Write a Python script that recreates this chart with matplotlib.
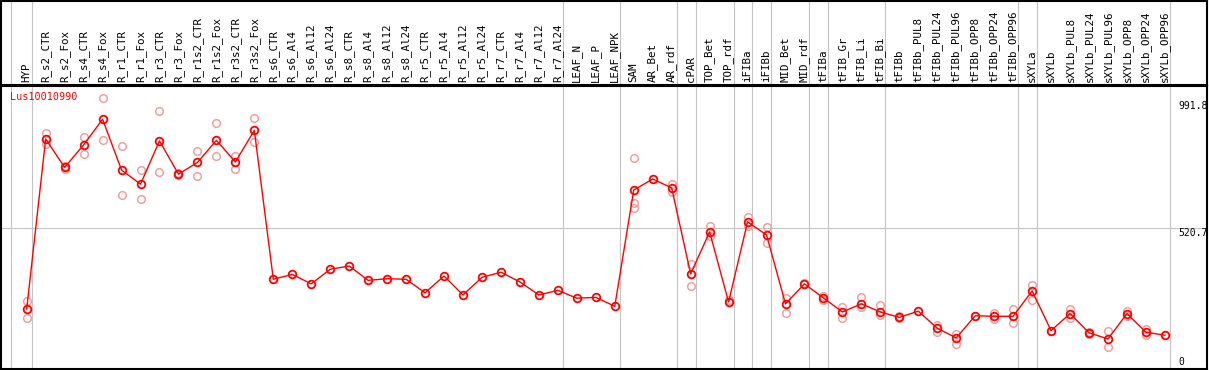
import numpy as np
import matplotlib
matplotlib.use('Agg')
import matplotlib.pyplot as plt

# ── Data ─────────────────────────────────────────────────────────
GENE = 'Lus10010990'
samples = [
    'HYP', 'R_s2_CTR', 'R_s2_Fox', 'R_s4_CTR', 'R_s4_Fox', 'R_r1_CTR', 'R_r1_Fox',
    'R_r3_CTR', 'R_r3_Fox', 'R_r1s2_CTR', 'R_r1s2_Fox', 'R_r3s2_CTR', 'R_r3s2_Fox',
    'R_s6_CTR', 'R_s6_Al4', 'R_s6_Al12', 'R_s6_Al24', 'R_s8_CTR', 'R_s8_Al4',
    'R_s8_Al12', 'R_s8_Al24', 'R_r5_CTR', 'R_r5_Al4', 'R_r5_Al12', 'R_r5_Al24',
    'R_r7_CTR', 'R_r7_Al4', 'R_r7_Al12', 'R_r7_Al24', 'LEAF_N', 'LEAF_P', 'LEAF_NPK',
    'SAM', 'AR_Bet', 'AR_rdf', 'cPAR', 'TOP_Bet', 'TOP_rdf', 'iFIBa', 'iFIBb',
    'MID_Bet', 'MID_rdf', 'tFIBa', 'tFIB_Gr', 'tFIB_Li', 'tFIB_Bi', 'tFIBb',
    'tFIBb_PUL8', 'tFIBb_PUL24', 'tFIBb_PUL96', 'tFIBb_OPP8', 'tFIBb_OPP24',
    'tFIBb_OPP96', 'sXYLa', 'sXYLb', 'sXYLb_PUL8', 'sXYLb_PUL24', 'sXYLb_PUL96',
    'sXYLb_OPP8', 'sXYLb_OPP24', 'sXYLb_OPP96',
]

mean_expr = [
    222, 851, 746, 829, 924, 736, 684, 844, 721, 764, 846, 766, 883,
    332, 350, 315, 369, 381, 328, 334, 332, 282, 344, 274, 339, 358, 322, 274, 291,
    262, 265, 232,
    662, 703, 670, 352, 507, 248, 544, 496, 241, 315, 263, 211, 241, 211, 191,
    214, 151, 115, 197, 195, 195, 289, 142, 205, 134, 111, 205, 136, 125,
]

nan = np.nan
rep_a = [
    252, 872, 751, 858, 1002, 825, 736, 956, 724, 807, 910, 789, 929,
    nan, nan, nan, nan, nan, nan, nan, nan, nan, nan, nan, nan, nan, nan, nan, nan,
    nan, nan, nan,
    781, nan, 685, 389, 529, 255, 563, 526, 263, 318, 270, 229, 266, 237, 196,
    nan, 163, 130, 197, 206, 221, 311, 141, 222, 138, 141, 215, 147, nan,
]
rep_b = [
    188, 833, 739, 795, 846, 643, 629, 728, 718, 713, 788, 739, 839,
    nan, nan, nan, nan, nan, nan, nan, nan, nan, nan, nan, nan, nan, nan, nan, nan,
    nan, nan, nan,
    614, nan, 655, 307, 492, nan, 529, 466, 207, nan, 255, 189, 229, 200, 189,
    nan, 138, 93, nan, 186, 171, 254, nan, 188, 130, 81, 196, 126, nan,
]
rep_c = [nan] * len(samples)
rep_c[32] = 596

# grey separators: one before the first sample, then after each group
group_ends = [0, 28, 31, 34, 35, 37, 38, 39, 41, 42, 45, 52, 53, 60]
sep_pos = [-0.85] + [g + 0.26 for g in group_ends]

y_marks = [991.8, 520.7, 0]

# ── Layout ────────────────────────────────────────────────────────
W, H = 1209, 370
C_LINE = '#FF0000'
C_REP = '#F0A0A0'
C_SEP = '#C4C4C4'
FONT = 'DejaVu Sans Mono'

fig = plt.figure(figsize=(W / 100, H / 100), dpi=100, facecolor='white')
left, right = 1 / W, 1207 / W
ax = fig.add_axes([left, 1 / H, right - left, (369 - 86) / H])
hd = fig.add_axes([left, (H - 85) / H, right - left, 84 / H])

x = np.arange(len(samples))
xlim = ((1 - 26.7) / 18.97, (1207 - 26.7) / 18.97)
ax.set_xlim(*xlim)
hd.set_xlim(*xlim)
ax.set_ylim(0, 1047)
hd.set_ylim(0, 1)

for a in (ax, hd):
    a.set_xticks([]); a.set_yticks([])
    for sp in a.spines.values():
        sp.set_color('black'); sp.set_linewidth(1.5)
    a.vlines(sep_pos, 0, 1, transform=a.get_xaxis_transform(),
             colors=C_SEP, lw=0.8, zorder=1)

ax.axhline(520.7, color=C_SEP, lw=0.8, zorder=1)

# replicate points
for rep in (rep_a, rep_b, rep_c):
    ax.plot(x, rep, 'o', ls='none', mfc='none', mec=C_REP, ms=5.5, mew=1.1,
            zorder=2)

ax.plot(x, mean_expr, '-', color=C_LINE, lw=1, zorder=3)
ax.plot(x, mean_expr, 'o', ls='none', mfc='none', mec=C_LINE, ms=5.5,
        mew=1.3, zorder=4)

ax.text(9 / 1206, 0.96, GENE, transform=ax.transAxes, color=C_LINE,
        fontsize=7.3, family=FONT, va='center', ha='left', zorder=5)

tx = (1178 - 1) / 1206
for v in y_marks:
    if v > 0:
        ax.text(tx, v, f'{v:g}', transform=ax.get_yaxis_transform(),
                fontsize=7, family=FONT, va='top', ha='left')
    else:
        ax.text(tx, 8, '0', transform=ax.get_yaxis_transform(),
                fontsize=7, family=FONT, va='bottom', ha='left')

for i, s in enumerate(samples):
    hd.text(i, 0.035, s, rotation=90, ha='center', va='bottom',
            fontsize=7.8, family=FONT)

plt.savefig('out.png', dpi=100, facecolor='white')
